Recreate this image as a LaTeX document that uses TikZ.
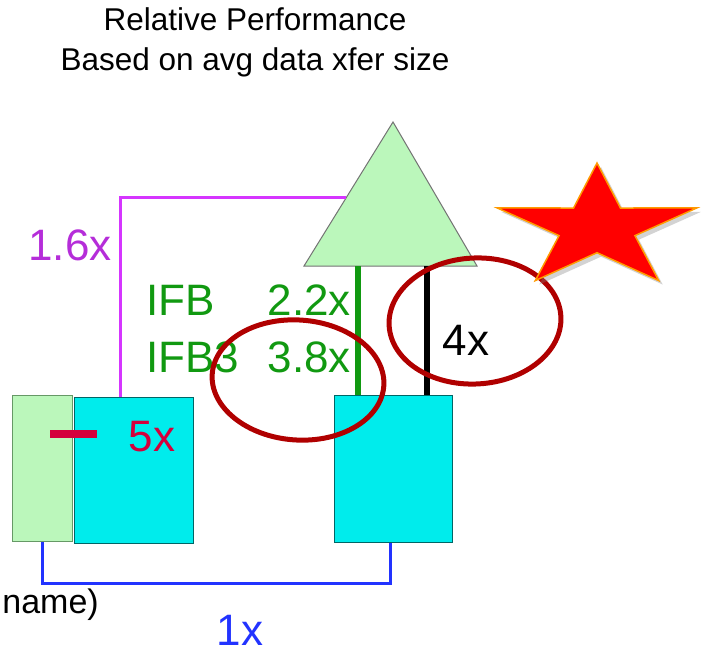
\documentclass[tikz,border=0pt]{standalone}
\usepackage{fontspec}
\setmainfont{Liberation Sans}
\usepackage{xcolor}
\usetikzlibrary{shadows}

\definecolor{paleGreen}{HTML}{BBF7BB}
\definecolor{hostCyan}{HTML}{00ECEC}
\definecolor{linkGreen}{HTML}{119911}
\definecolor{linkMagenta}{HTML}{D535FF}
\definecolor{linkBlue}{HTML}{2233FF}
\definecolor{dashRed}{HTML}{D4003C}
\definecolor{ringRed}{HTML}{B00000}
\definecolor{starOrange}{HTML}{FF9A00}

\begin{document}
\begin{tikzpicture}[x=1pt, y=-1pt,
    box/.style={line width=1.2pt, inner sep=0pt, anchor=north west},
    lbl/.style={inner sep=0pt, font=\fontsize{44}{44}\selectfont},
    ring/.style={draw=ringRed, line width=5pt}]
    \useasboundingbox (0,0) rectangle (701,655);

    % Title
    \node[align=center, inner sep=0pt, font=\fontsize{31.5}{40}\selectfont] (title) at (255,42)
        {Relative Performance\\Based on avg data xfer size};

    % Boxes
    \node[box, fill=paleGreen, draw=gray!80!green, minimum width=60, minimum height=146] (store) at (12,395) {};
    \node[box, fill=hostCyan, draw=teal!80!black, minimum width=119, minimum height=146] (hostL) at (74,397) {};
    \node[box, fill=hostCyan, draw=teal!80!black, minimum width=118, minimum height=147] (hostR) at (334,395) {};

    % Switch triangle
    \coordinate (apex) at (393,122);
    \coordinate (baseL) at (304,266);
    \coordinate (baseR) at (477,266);
    \draw[fill=paleGreen, draw=gray!90!black, line width=1pt] (baseL) -- (apex) -- (baseR) -- cycle;

    % Links
    \coordinate (magIn) at (346,198);
    \coordinate (grnTop) at (358,266);
    \coordinate (blkTop) at (427,266);
    \draw[linkMagenta, line width=3pt] ([xshift=46pt]hostL.north west) |- (magIn);
    \draw[linkGreen, line width=6pt] (grnTop) -- (grnTop |- hostR.north);
    \draw[black, line width=6pt] (blkTop) -- (blkTop |- hostR.north);
    \draw[linkBlue, line width=3pt] ([xshift=30pt]store.south west) -- ++(0,41)
        -| ([xshift=56pt]hostR.south west);
    \draw[dashRed, line width=8pt] (50,434) -- (97,434);

    % Labels
    \node[lbl, text=linkMagenta!85!black] (lMag) at (70,245) {1.6x};
    \node[lbl, text=linkGreen, anchor=west] (lIfb) at (146,300) {IFB};
    \node[lbl, text=linkGreen, anchor=east] (lIfbVal) at (351,300) {2.2x};
    \node[lbl, text=linkGreen, anchor=west] (lIfb3) at (146,357) {IFB3};
    \node[lbl, text=linkGreen, anchor=east] (lIfb3Val) at (351,357) {3.8x};
    \node[lbl, text=dashRed] (lDash) at (152,437) {5x};
    \node[lbl] (lBlk) at (466,340) {4x};
    \node[lbl, text=linkBlue] (lBlue) at (240,630) {1x};
    \node[lbl, font=\fontsize{34}{34}\selectfont, anchor=east] (lName) at (99,605) {name)};

    % Highlight rings
    \draw[ring, rotate around={-4:(298,380)}] (298,380) ellipse [x radius=86, y radius=60];
    \draw[ring, rotate around={3:(475,321)}] (475,321) ellipse [x radius=86, y radius=63];

    % Star
    \begin{scope}[shift={(597,228)}, x=105pt, y=65pt]
        \draw[fill=red, draw=starOrange, line width=1.5pt,
              drop shadow={shadow xshift=4pt, shadow yshift=-4pt, opacity=0.35}]
            (90:1) \foreach \a in {126,198,270,342} {-- (\a:0.38) -- (\a+36:1)} -- (54:0.38) -- cycle;
    \end{scope}
\end{tikzpicture}
\end{document}
